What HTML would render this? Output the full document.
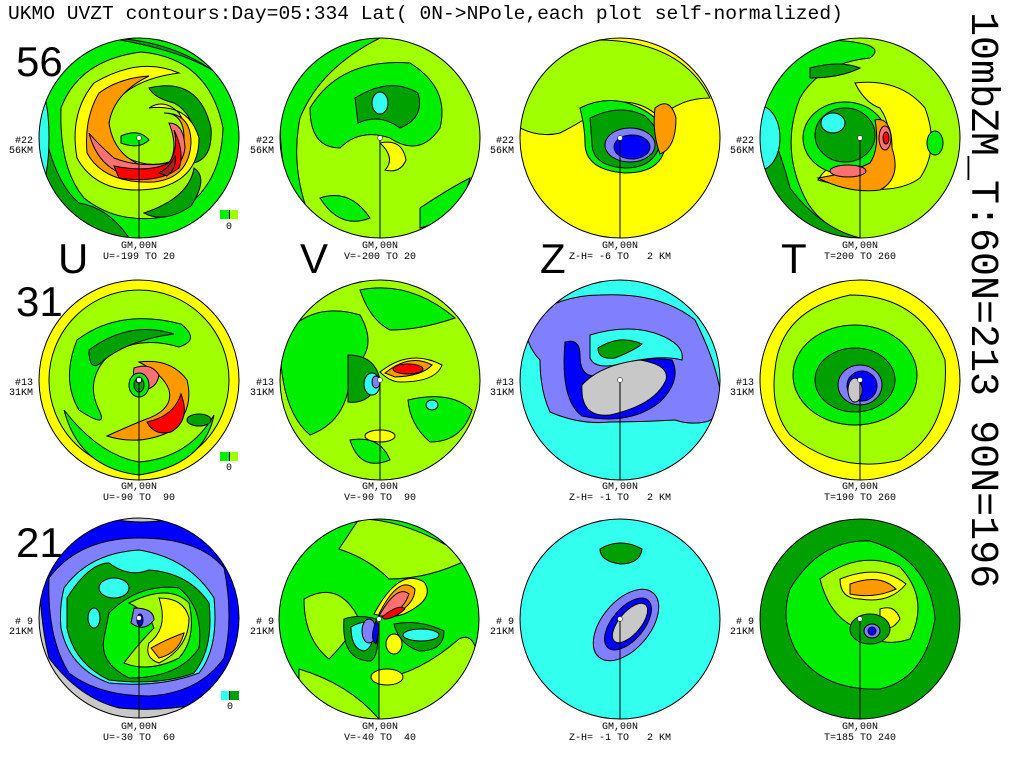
<!DOCTYPE html>
<html><head><meta charset="utf-8"><style>
html,body{margin:0;padding:0;background:#fff;}
svg{display:block;}
text{font-family:"Liberation Mono",monospace;fill:#000;}
</style></head><body>
<svg width="1024" height="768" viewBox="0 0 1024 768" xmlns="http://www.w3.org/2000/svg">
<defs><clipPath id="c"><circle cx="0" cy="0" r="100"/></clipPath></defs>
<rect width="1024" height="768" fill="#fff"/>
<text x="8" y="19" font-size="19.6">UKMO UVZT contours:Day=05:334 Lat( 0N-&gt;NPole,each plot self-normalized)</text>
<text transform="translate(972,12) rotate(90)" font-size="40">10mbZM_T:60N=213 90N=196</text>
<g font-size="42">
<text x="16" y="76" style="font-family:'Liberation Sans',sans-serif">56</text>
<text x="16" y="316" style="font-family:'Liberation Sans',sans-serif">31</text>
<text x="16" y="557" style="font-family:'Liberation Sans',sans-serif">21</text>
<text x="58" y="273" style="font-family:'Liberation Sans',sans-serif">U</text>
<text x="300" y="273" style="font-family:'Liberation Sans',sans-serif">V</text>
<text x="540" y="273" style="font-family:'Liberation Sans',sans-serif">Z</text>
<text x="781" y="273" style="font-family:'Liberation Sans',sans-serif">T</text>
</g>
<g stroke="#000" stroke-width="1">
<!-- P1 U56 -->
<g transform="translate(139,138)"><g clip-path="url(#c)">
<rect x="-100" y="-100" width="200" height="200" fill="#00ee00"/>
<path d="M-100,-40 Q-90,40 -60,65 Q-30,70 -10,100 L-100,100Z" fill="#00a000"/>
<path d="M-30,-100 Q40,-98 90,-55 Q60,-85 -30,-100Z" fill="#00a000"/>
<ellipse cx="-100" cy="0" rx="10" ry="50" fill="#33ffee"/>
<path d="M-78,-30 Q-60,-78 2,-86 Q70,-80 84,-10 Q82,55 30,78 Q-20,88 -55,60 Q-80,30 -78,-30Z" fill="#a0ff00"/>
<path d="M10,-50 Q60,-62 72,-10 Q74,20 55,25 Q62,-20 35,-35 Q15,-40 10,-50Z" fill="#00a000"/>
<path d="M5,75 Q50,60 55,30 Q70,40 52,68 Q25,86 5,75Z" fill="#00a000"/>
<path d="M-45,-55 Q0,-82 40,-65 Q0,-60 -20,-40 Q-40,-10 -20,15 Q10,35 40,20 Q55,0 40,-25 Q25,-40 10,-30 Q50,-35 60,0 Q60,40 20,50 Q-40,60 -62,20 Q-70,-25 -45,-55Z" fill="#ffff00"/>
<path d="M-40,-45 Q-20,-60 10,-62 Q-25,-45 -30,-15 Q-25,20 10,30 Q40,30 45,0 Q45,-25 25,-25 Q52,-25 52,5 Q50,40 15,44 Q-35,46 -52,15 Q-55,-20 -40,-45Z" fill="#ff9900"/>
<path d="M-50,-5 Q-40,35 0,40 Q42,40 46,10 Q45,-15 30,-15 Q40,10 30,25 Q0,30 -25,20 Q-42,5 -50,-5Z" fill="#ff7070"/>
<path d="M-25,28 Q10,35 30,25 Q40,10 35,-8 Q46,15 40,30 Q20,46 -20,40Z" fill="#ff0000"/>
<path d="M20,35 Q30,30 36,18 Q38,30 28,38Z" fill="#aa2020"/>
<path d="M-18,-2 Q0,-10 10,2 Q0,12 -18,5Z" fill="#00ee00"/>
</g><circle r="100" fill="none"/><line x1="0" y1="0" x2="0" y2="100"/></g>
<!-- P2 V56 -->
<g transform="translate(380,138)"><g clip-path="url(#c)">
<rect x="-100" y="-100" width="200" height="200" fill="#a0ff00"/>
<path d="M-100,-20 Q-80,-100 0,-100 Q-60,-70 -80,-20 Q-90,30 -70,80 Q-100,60 -100,-20Z" fill="#00ee00"/>
<path d="M-70,-30 Q-40,-80 30,-75 Q70,-50 60,-10 Q40,20 10,0 Q-20,-10 -40,10 Q-70,10 -70,-30Z" fill="#00ee00"/>
<path d="M-25,-40 Q10,-62 38,-45 Q45,-20 20,-10 Q0,-25 -22,-15Z" fill="#00a000"/>
<ellipse cx="0" cy="-35" rx="8" ry="11" fill="#33ffee"/>
<path d="M0,5 Q22,0 26,22 Q20,36 5,32 Q16,20 0,5Z" fill="#ffff00"/>
<path d="M-60,60 Q-30,50 -10,80 Q-40,92 -60,60Z" fill="#00ee00"/>
<path d="M40,70 Q70,50 90,40 Q80,80 40,90Z" fill="#00ee00"/>
</g><circle r="100" fill="none"/><line x1="0" y1="0" x2="0" y2="100"/></g>
<!-- P3 Z56 -->
<g transform="translate(620,138)"><g clip-path="url(#c)">
<rect x="-100" y="-100" width="200" height="200" fill="#ffff00"/>
<path d="M-100,-10 Q-90,-80 -30,-98 Q60,-100 90,-40 Q60,-40 40,-20 Q20,-40 -10,-35 Q-40,-15 -60,-5 Q-80,0 -100,-10Z" fill="#a0ff00"/>
<path d="M-40,-30 Q-10,-45 20,-30 Q50,-15 45,10 Q40,35 5,35 Q-35,32 -35,5 Q-35,-10 -40,-30Z" fill="#00ee00"/>
<path d="M-30,-20 Q0,-35 25,-22 Q44,-5 38,12 Q30,30 5,30 Q-28,28 -28,5Z" fill="#00a000"/>
<ellipse cx="10" cy="7" rx="25" ry="17" fill="#8080ff"/>
<ellipse cx="12" cy="9" rx="18" ry="12" fill="#0000ff"/>
<path d="M35,-30 Q50,-42 56,-20 Q56,10 40,16 Q32,-5 35,-30Z" fill="#ff9900"/>
</g><circle r="100" fill="none"/><line x1="0" y1="0" x2="0" y2="100"/></g>
<!-- P4 T56 -->
<g transform="translate(860,138)"><g clip-path="url(#c)">
<rect x="-100" y="-100" width="200" height="200" fill="#a0ff00"/>
<path d="M-100,-30 Q-90,-85 -30,-98 Q30,-95 10,-80 Q-40,-75 -60,-40 Q-80,10 -55,60 Q-40,90 0,100 Q-80,100 -100,-30Z" fill="#00ee00"/>
<path d="M-100,-30 Q-80,10 -70,50 Q-40,90 0,100 L-100,100Z" fill="#00a000"/>
<ellipse cx="-100" cy="0" rx="20" ry="32" fill="#33ffee"/>
<path d="M-5,-55 Q40,-60 65,-30 Q80,10 60,40 Q30,62 -42,42 Q-30,20 10,20 Q40,0 20,-30 Q5,-35 -5,-55Z" fill="#ffff00"/>
<path d="M-50,-70 Q-20,-78 0,-70 Q-20,-60 -50,-60Z" fill="#00a000"/>
<ellipse cx="-15" cy="0" rx="42" ry="36" fill="#00ee00"/>
<ellipse cx="-15" cy="-3" rx="30" ry="27" fill="#00a000"/>
<ellipse cx="-27" cy="-15" rx="12" ry="10" fill="#33ffee"/>
<path d="M15,-18 Q32,-22 32,10 Q42,40 20,52 Q-10,56 -42,40 Q-10,35 10,25 Q20,10 15,-18Z" fill="#ff9900"/>
<ellipse cx="25" cy="0" rx="6" ry="12" fill="#ff7070"/>
<ellipse cx="26" cy="0" rx="3" ry="6" fill="#ff0000"/>
<ellipse cx="-12" cy="33" rx="18" ry="6" fill="#ff7070"/>
<ellipse cx="75" cy="5" rx="8" ry="12" fill="#00ee00"/>
</g><circle r="100" fill="none"/><line x1="0" y1="0" x2="0" y2="100"/></g>
<!-- P5 U31 -->
<g transform="translate(139,380)"><g clip-path="url(#c)">
<rect x="-100" y="-100" width="200" height="200" fill="#ffff00"/>
<circle cx="0" cy="0" r="90" fill="#a0ff00"/>
<path d="M-75,30 Q-40,75 0,82 Q50,78 75,35 Q65,85 0,95 Q-60,88 -75,30Z" fill="#00ee00"/>
<path d="M-62,-40 Q-20,-72 42,-56 Q62,-40 40,-33 Q0,-45 -30,-25 Q-55,0 -40,30 Q-30,50 -60,30 Q-78,0 -62,-40Z" fill="#00ee00"/>
<path d="M-50,-30 Q-10,-60 35,-46 Q-10,-40 -35,-20 Q-50,-5 -50,-30Z" fill="#00a000"/>
<path d="M0,-18 Q32,-22 48,0 Q56,32 30,52 Q0,66 -32,56 Q-10,46 5,40 Q35,30 30,10 Q25,-5 0,-18Z" fill="#ff9900"/>
<path d="M8,42 Q35,36 42,14 Q52,40 32,52 Q15,56 8,42Z" fill="#ff0000"/>
<path d="M-5,-12 Q12,-18 20,-5 Q18,8 5,10 Q-8,5 -5,-12Z" fill="#ff7070"/>
<ellipse cx="0" cy="5" rx="10" ry="12" fill="#00ee00"/>
<ellipse cx="0" cy="5" rx="5" ry="7" fill="#00a000"/>
<ellipse cx="0" cy="0" rx="3" ry="3" fill="#33ffee"/>
<ellipse cx="60" cy="40" rx="12" ry="6" fill="#00a000"/>
</g><circle r="100" fill="none"/><line x1="0" y1="0" x2="0" y2="100"/></g>
<!-- P6 V31 -->
<g transform="translate(380,380)"><g clip-path="url(#c)">
<rect x="-100" y="-100" width="200" height="200" fill="#a0ff00"/>
<path d="M-100,-40 Q-70,-80 -20,-65 Q0,-30 -30,-10 Q-30,40 -70,55 Q-100,30 -100,-40Z" fill="#00ee00"/>
<path d="M-20,-90 Q30,-100 75,-62 Q40,-50 10,-50 Q-10,-60 -20,-90Z" fill="#00ee00"/>
<path d="M28,20 Q70,10 92,30 Q82,62 50,62 Q30,45 28,20Z" fill="#00ee00"/>
<path d="M-30,60 Q0,55 10,80 Q-20,92 -30,60Z" fill="#00ee00"/>
<path d="M-32,-25 Q-5,-25 0,0 Q-10,25 -32,22Z" fill="#00a000"/>
<ellipse cx="-8" cy="4" rx="8" ry="11" fill="#33ffee"/>
<ellipse cx="-4" cy="2" rx="4" ry="6" fill="#8080ff"/>
<path d="M0,-8 Q30,-32 62,-15 Q56,2 20,2 Q10,2 0,-8Z" fill="#ffff00"/>
<path d="M5,-7 Q30,-27 52,-15 Q42,-4 15,-3Z" fill="#ff9900"/>
<ellipse cx="28" cy="-11" rx="15" ry="5" fill="#ff0000"/>
<ellipse cx="0" cy="56" rx="15" ry="6" fill="#ffff00"/>
<ellipse cx="52" cy="25" rx="6" ry="5" fill="#33ffee"/>
</g><circle r="100" fill="none"/><line x1="0" y1="0" x2="0" y2="100"/></g>
<!-- P7 Z31 -->
<g transform="translate(620,380)"><g clip-path="url(#c)">
<rect x="-100" y="-100" width="200" height="200" fill="#33ffee"/>
<path d="M-95,-60 Q-60,-85 -20,-85 Q40,-88 75,-60 Q95,-20 100,10 Q100,40 85,42 Q70,45 55,40 Q20,42 -10,42 Q-40,45 -70,32 Q-80,10 -80,-20 Q-95,-35 -95,-60Z" fill="#8080ff"/>
<path d="M-30,-45 Q10,-57 40,-45 Q65,-35 62,-20 Q40,-26 0,-16 Q-25,-10 -30,-22Z" fill="#33ffee"/>
<path d="M-22,-32 Q0,-46 22,-36 Q15,-30 -5,-22 Q-22,-20 -22,-32Z" fill="#00a000"/>
<path d="M-55,-38 Q-40,-42 -40,-25 Q-40,0 -20,-5 Q20,-26 52,-20 Q62,0 40,22 Q10,46 -38,36 Q-60,20 -55,-38Z" fill="#0000ff"/>
<path d="M-38,5 Q-20,-15 20,-20 Q50,-15 46,0 Q35,25 -10,35 Q-40,38 -38,5Z" fill="#c8c8c8"/>
</g><circle r="100" fill="none"/><line x1="0" y1="0" x2="0" y2="100"/></g>
<!-- P8 T31 -->
<g transform="translate(860,380)"><g clip-path="url(#c)">
<rect x="-100" y="-100" width="200" height="200" fill="#ffff00"/>
<path d="M-85,-10 Q-80,-70 -10,-85 Q60,-85 85,-20 Q90,50 40,80 Q-20,95 -70,55 Q-90,30 -85,-10Z" fill="#a0ff00"/>
<ellipse cx="-5" cy="-5" rx="62" ry="50" fill="#00ee00"/>
<ellipse cx="-5" cy="0" rx="40" ry="32" fill="#00a000"/>
<ellipse cx="0" cy="5" rx="22" ry="20" fill="#8080ff"/>
<ellipse cx="2" cy="6" rx="15" ry="15" fill="#0000ff"/>
<ellipse cx="-5" cy="10" rx="7" ry="12" fill="#c8c8c8"/>
</g><circle r="100" fill="none"/><line x1="0" y1="0" x2="0" y2="100"/></g>
<!-- P9 U21 -->
<g transform="translate(139,618)"><g clip-path="url(#c)">
<rect x="-100" y="-100" width="200" height="200" fill="#c8c8c8"/>
<path d="M-100,-100 L100,-100 L100,20 Q95,70 60,86 Q20,94 -20,90 Q-60,80 -90,40 Q-100,0 -100,-60Z" fill="#0000ff"/>
<path d="M-30,-100 Q0,-92 40,-100Z" fill="#c8c8c8"/>
<path d="M-90,-40 Q-60,-80 0,-80 Q60,-80 85,-50 Q95,0 85,40 Q60,75 10,78 Q-40,78 -70,55 Q-92,20 -90,-40Z" fill="#8080ff"/>
<path d="M-75,-30 Q-50,-65 0,-68 Q50,-60 75,-20 Q80,30 60,55 Q20,70 -30,65 Q-70,50 -78,10 Q-80,-10 -75,-30Z" fill="#33ffee"/>
<path d="M-72,-20 Q-50,-55 -30,-55 Q-10,-40 10,-48 Q50,-45 70,-15 Q75,30 55,55 Q20,68 -30,62 Q-65,45 -72,10Z" fill="#00a000"/>
<ellipse cx="-25" cy="-30" rx="15" ry="10" fill="#33ffee"/>
<ellipse cx="-45" cy="0" rx="6" ry="10" fill="#33ffee"/>
<path d="M-30,-5 Q0,-35 40,-30 Q65,-10 60,30 Q40,60 -10,60 Q-40,45 -35,20Z" fill="#00ee00"/>
<path d="M-10,-15 Q30,-35 50,-15 Q58,20 40,40 Q10,55 -15,45 Q0,25 15,10 Q10,-5 -10,-15Z" fill="#a0ff00"/>
<path d="M20,-20 Q45,-20 50,0 Q50,30 20,45 Q5,40 10,25 Q30,10 20,-20Z" fill="#ffff00"/>
<path d="M12,30 Q30,20 45,15 Q40,35 20,40Z" fill="#ff9900"/>
<path d="M-5,-10 Q15,-10 15,2 Q5,15 -8,5Z" fill="#8080ff"/>
<ellipse cx="1" cy="2" rx="3" ry="6" fill="#0000ff"/>
</g><circle r="100" fill="none"/><line x1="0" y1="0" x2="0" y2="100"/></g>
<!-- P10 V21 -->
<g transform="translate(379,619)"><g clip-path="url(#c)">
<rect x="-100" y="-100" width="200" height="200" fill="#00ee00"/>
<path d="M-75,-20 Q-40,-40 -20,0 Q-30,20 -50,40 Q-75,20 -75,-20Z" fill="#a0ff00"/>
<path d="M-20,-100 Q30,-100 90,-60 Q50,-40 10,-40 Q-10,-60 -40,-70 Z" fill="#a0ff00"/>
<path d="M-80,50 Q-30,65 0,100 L-80,100Z" fill="#a0ff00"/>
<path d="M0,60 Q40,55 80,20 Q100,10 100,60 L100,100 L0,100Z" fill="#a0ff00"/>
<path d="M-5,-5 Q20,-52 45,-37 Q57,-20 25,-5 Q10,0 -5,-5Z" fill="#ffff00"/>
<path d="M0,-5 Q20,-45 36,-30 Q36,-15 15,-4Z" fill="#ff9900"/>
<path d="M0,-3 Q18,-35 30,-25 Q25,-10 10,-3Z" fill="#ff7070"/>
<path d="M3,-2 Q20,-16 26,-10 Q15,0 5,0Z" fill="#ff0000"/>
<path d="M-35,0 Q-20,-5 -3,0 Q2,35 -8,42 Q-38,42 -35,0Z" fill="#00a000"/>
<path d="M-28,8 Q-15,0 -5,5 Q-5,30 -15,32 Q-28,30 -28,8Z" fill="#33ffee"/>
<ellipse cx="-10" cy="12" rx="7" ry="12" fill="#8080ff"/>
<path d="M-3,2 Q2,5 -3,25 Q-10,20 -3,2Z" fill="#0000ff"/>
<path d="M15,5 Q40,0 65,12 Q65,32 40,32 Q20,25 15,5Z" fill="#00a000"/>
<ellipse cx="42" cy="16" rx="18" ry="6" fill="#33ffee"/>
<ellipse cx="15" cy="25" rx="8" ry="10" fill="#ffff00"/>
<ellipse cx="8" cy="58" rx="16" ry="8" fill="#ffff00"/>
</g><circle r="100" fill="none"/><line x1="0" y1="0" x2="0" y2="100"/></g>
<!-- P11 Z21 -->
<g transform="translate(620,619)"><g clip-path="url(#c)">
<rect x="-100" y="-100" width="200" height="200" fill="#33ffee"/>
<path d="M-20,-70 Q0,-82 22,-70 Q20,-55 0,-55 Q-20,-58 -20,-70Z" fill="#00a000"/>
<ellipse cx="0" cy="0" rx="42" ry="24" transform="translate(6,6) rotate(-50)" fill="#8080ff"/>
<ellipse cx="0" cy="0" rx="31" ry="16" transform="translate(8,5) rotate(-50)" fill="#0000ff"/>
<ellipse cx="0" cy="0" rx="24" ry="11" transform="translate(10,4) rotate(-50)" fill="#c8c8c8"/>
</g><circle r="100" fill="none"/><line x1="0" y1="0" x2="0" y2="100"/></g>
<!-- P12 T21 -->
<g transform="translate(860,619)"><g clip-path="url(#c)">
<rect x="-100" y="-100" width="200" height="200" fill="#00a000"/>
<path d="M-70,-30 Q-40,-80 10,-78 Q70,-60 75,0 Q65,60 20,70 Q-40,72 -65,30 Q-80,0 -70,-30Z" fill="#00ee00"/>
<path d="M-40,-40 Q0,-70 40,-52 Q70,-20 50,20 Q20,30 0,10 Q-30,0 -40,-40Z" fill="#a0ff00"/>
<path d="M-20,-40 Q20,-56 46,-35 Q30,-15 0,-20 Q-20,-20 -20,-40Z" fill="#ffff00"/>
<path d="M-10,-35 Q20,-46 36,-30 Q15,-20 -10,-25Z" fill="#ff9900"/>
<path d="M20,-10 Q35,-15 40,0 Q30,15 20,5Z" fill="#ffff00"/>
<ellipse cx="10" cy="10" rx="20" ry="15" fill="#00a000"/>
<ellipse cx="12" cy="12" rx="8" ry="7" fill="#8080ff"/>
<ellipse cx="12" cy="12" rx="4" ry="4" fill="#0000ff"/>
</g><circle r="100" fill="none"/><line x1="0" y1="0" x2="0" y2="100"/></g>
</g>
<g fill="#fff" stroke="#000" stroke-width="0.5">
<circle cx="139" cy="138" r="2.5"/><circle cx="380" cy="138" r="2.5"/><circle cx="620" cy="138" r="2.5"/><circle cx="860" cy="138" r="2.5"/>
<circle cx="139" cy="380" r="2.5"/><circle cx="380" cy="380" r="2.5"/><circle cx="620" cy="380" r="2.5"/><circle cx="860" cy="380" r="2.5"/>
<circle cx="139" cy="618" r="2.5"/><circle cx="379" cy="619" r="2.5"/><circle cx="620" cy="619" r="2.5"/><circle cx="860" cy="619" r="2.5"/>
</g>
<g stroke="none">
<rect x="220" y="210" width="9" height="9" fill="#00ee00"/><rect x="229" y="210" width="9" height="9" fill="#a0ff00"/><rect x="229" y="210" width="1" height="9" fill="#000"/>
<rect x="220" y="452" width="9" height="9" fill="#00ee00"/><rect x="229" y="452" width="9" height="9" fill="#a0ff00"/><rect x="229" y="452" width="1" height="9" fill="#000"/>
<rect x="221" y="691" width="9" height="9" fill="#33ffee"/><rect x="230" y="691" width="9" height="9" fill="#00a000"/><rect x="229" y="691" width="1" height="9" fill="#000"/>
</g>
<g font-size="10" text-anchor="middle">
<text x="229" y="229">0</text><text x="229" y="470">0</text><text x="230" y="709">0</text>
</g>
<g font-size="10" text-anchor="end">
<text x="33" y="143">#22</text><text x="33" y="153">56KM</text>
<text x="274" y="143">#22</text><text x="274" y="153">56KM</text>
<text x="514" y="143">#22</text><text x="514" y="153">56KM</text>
<text x="754" y="143">#22</text><text x="754" y="153">56KM</text>
<text x="33" y="385">#13</text><text x="33" y="395">31KM</text>
<text x="274" y="385">#13</text><text x="274" y="395">31KM</text>
<text x="514" y="385">#13</text><text x="514" y="395">31KM</text>
<text x="754" y="385">#13</text><text x="754" y="395">31KM</text>
<text x="33" y="624" xml:space="preserve"># 9</text><text x="33" y="634">21KM</text>
<text x="274" y="624" xml:space="preserve"># 9</text><text x="274" y="634">21KM</text>
<text x="514" y="624" xml:space="preserve"># 9</text><text x="514" y="634">21KM</text>
<text x="754" y="624" xml:space="preserve"># 9</text><text x="754" y="634">21KM</text>
</g>
<g font-size="10" text-anchor="middle">
<text x="139" y="248">GM,00N</text><text x="139" y="259" xml:space="preserve">U=-199 TO 20</text>
<text x="380" y="248">GM,00N</text><text x="380" y="259" xml:space="preserve">V=-200 TO 20</text>
<text x="620" y="248">GM,00N</text><text x="620" y="259" xml:space="preserve">Z-H= -6 TO   2 KM</text>
<text x="860" y="248">GM,00N</text><text x="860" y="259" xml:space="preserve">T=200 TO 260</text>
<text x="139" y="489">GM,00N</text><text x="139" y="500" xml:space="preserve">U=-90 TO  90</text>
<text x="380" y="489">GM,00N</text><text x="380" y="500" xml:space="preserve">V=-90 TO  90</text>
<text x="620" y="489">GM,00N</text><text x="620" y="500" xml:space="preserve">Z-H= -1 TO   2 KM</text>
<text x="860" y="489">GM,00N</text><text x="860" y="500" xml:space="preserve">T=190 TO 260</text>
<text x="139" y="729">GM,00N</text><text x="139" y="740" xml:space="preserve">U=-30 TO  60</text>
<text x="380" y="729">GM,00N</text><text x="380" y="740" xml:space="preserve">V=-40 TO  40</text>
<text x="620" y="729">GM,00N</text><text x="620" y="740" xml:space="preserve">Z-H= -1 TO   2 KM</text>
<text x="860" y="729">GM,00N</text><text x="860" y="740" xml:space="preserve">T=185 TO 240</text>
</g>
</svg>
</body></html>
